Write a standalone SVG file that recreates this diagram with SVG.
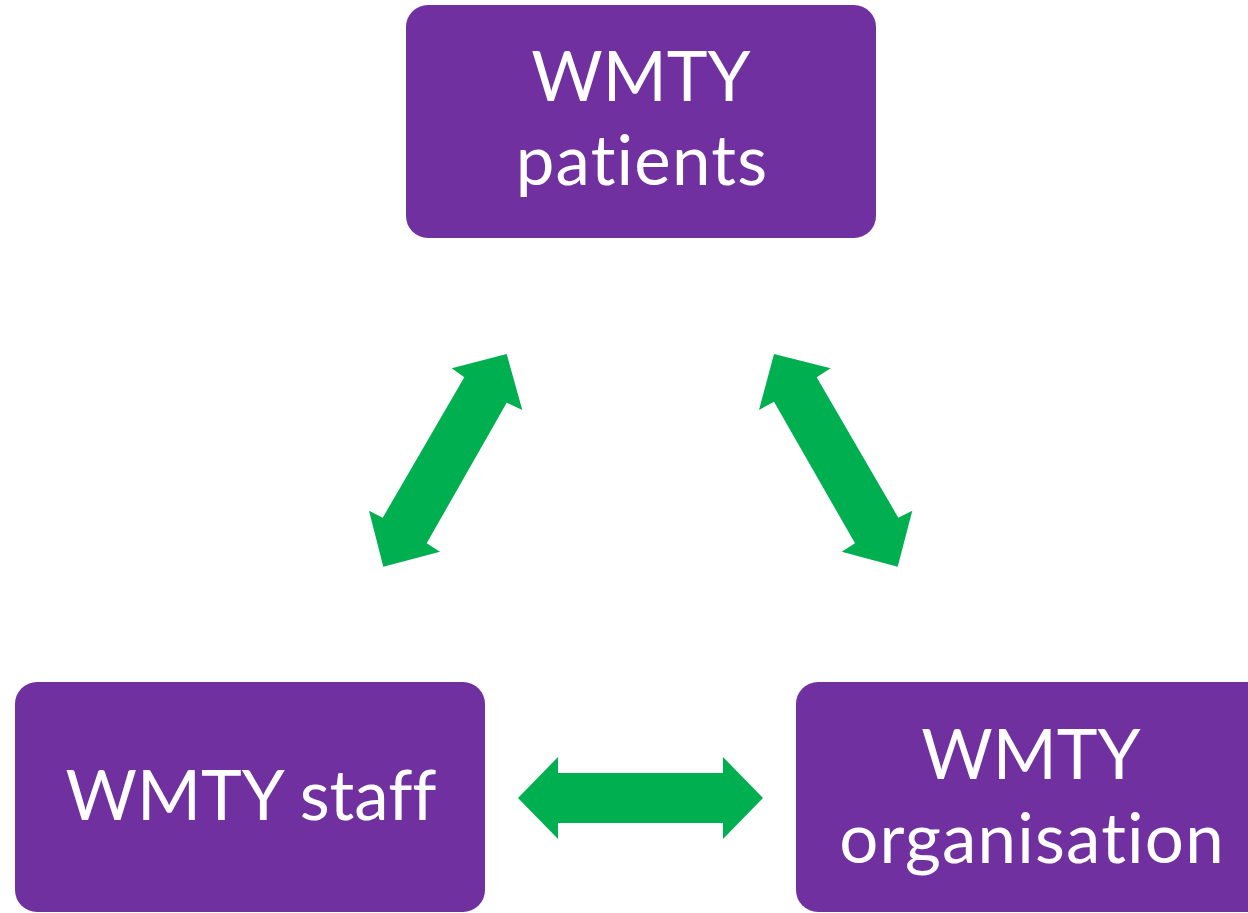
<svg xmlns="http://www.w3.org/2000/svg" width="1248" height="913" viewBox="0 0 1248 913">
<style>
.box{fill:#7030A0}
.lbl{fill:#fff;font-family:Lato,"Liberation Sans",sans-serif;font-size:69px;text-anchor:middle;font-variant-ligatures:none;font-feature-settings:"liga" 0,"clig" 0}
.lc{letter-spacing:1.2px}
.arr{fill:#00B050}
</style>
<rect width="1248" height="913" fill="#fff"/>
<g id="node-patients">
<rect class="box" x="406" y="5" width="470" height="233" rx="22"/>
<text class="lbl" x="641" y="101">WMTY</text>
<text class="lbl lc" x="642" y="185">patients</text>
</g>
<g id="node-staff">
<rect class="box" x="15" y="682" width="470" height="230" rx="22"/>
<text class="lbl" x="251" y="820">WMTY staff</text>
</g>
<g id="node-organisation">
<rect class="box" x="796" y="682" width="480" height="230" rx="22"/>
<text class="lbl" x="1031" y="779">WMTY</text>
<text class="lbl lc" x="1032" y="863">organisation</text>
</g>
<g id="connectors">
<polygon class="arr" points="506.7,354 522.3,410 506.7,402.7 426.7,543.3 440,551.7 383.3,566.7 369,510.7 382.7,517.7 464.3,377.3 451.7,368.3"/>
<polygon class="arr" points="774,354 830.7,368.3 816.7,377.3 898.3,517.7 912.3,510.7 897.7,566.7 841.7,551.7 855,543.3 774,401.7 759,410"/>
<polygon class="arr" points="518,798 558,757 558,773 723,773 723,757 763,798 723,839 723,823 558,823 558,839"/>
</g>
</svg>
